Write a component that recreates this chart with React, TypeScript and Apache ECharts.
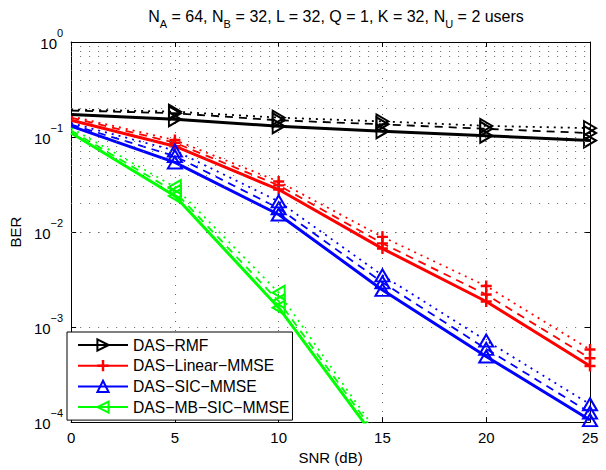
import React, { useEffect, useRef } from 'react';
import * as echarts from 'echarts';

// ---- data ----
const snrDb = [0, 5, 10, 15, 20, 25];

const rmfSolid = [0.173, 0.154, 0.13, 0.115, 0.103, 0.092];
const rmfDashed = [0.19, 0.178, 0.15, 0.136, 0.122, 0.11];
const rmfDotted = [0.195, 0.185, 0.16, 0.146, 0.131, 0.124];

const linSolid = [0.15, 0.08, 0.028, 0.0067, 0.00186, 0.00039];
const linDashed = [0.16, 0.087, 0.031, 0.0076, 0.0022, 0.00047];
const linDotted = [0.165, 0.093, 0.034, 0.0089, 0.0027, 0.00058];

const sicSolid = [0.13, 0.054, 0.0153, 0.00246, 0.00049, 0.000105];
const sicDashed = [0.135, 0.063, 0.0178, 0.00295, 0.00059, 0.000126];
const sicDotted = [0.14, 0.072, 0.021, 0.0035, 0.00072, 0.000154];

const mbSolid = [0.11, 0.024, 0.0016, 0.000054];
const mbDashed = [0.117, 0.0265, 0.00187, 0.00006];
const mbDotted = [0.124, 0.0298, 0.0023, 0.000065];

const legendNames = ['DAS−RMF', 'DAS−Linear−MMSE', 'DAS−SIC−MMSE', 'DAS−MB−SIC−MMSE'];
const xTicks = [0, 5, 10, 15, 20, 25];
const yDecades = [-4, -3, -2, -1, 0];
const minorMantissas = [2, 3, 4, 5, 6, 7, 8, 9];

const FONT = '"Liberation Sans", Arial, Helvetica, sans-serif';
const PLUS = 'path://M3.9,0H6.1V3.9H10V6.1H6.1V10H3.9V6.1H0V3.9H3.9Z';

export default function App() {
  const ref = useRef<HTMLDivElement>(null);

  useEffect(() => {
    if (!ref.current) return;
    const chart = echarts.init(ref.current, undefined, { renderer: 'svg' });

    const minorValues: number[] = [];
    yDecades.slice(0, -1).forEach((d) => {
      minorMantissas.forEach((m) => minorValues.push(m * Math.pow(10, d)));
    });

    const mk = (
      name: string,
      vals: number[],
      color: string,
      dash: any,
      width: number,
      symbol: string,
      size: any,
      rotate: number,
      filled: boolean
    ) => ({
      type: 'line',
      name,
      data: vals.map((v, i) =>
        i === 0 ? { value: [snrDb[i], v], symbol: 'none' } : [snrDb[i], v]
      ),
      symbol,
      symbolSize: size,
      symbolRotate: rotate,
      showSymbol: true,
      lineStyle: { color, width, type: dash },
      itemStyle: filled
        ? { color, borderWidth: 0 }
        : { color: 'rgba(0,0,0,0)', borderColor: color, borderWidth: 2 },
      emphasis: { disabled: true },
      silent: true,
      clip: true,
      z: 3,
    });

    const groups = [
      { name: legendNames[0], s: rmfSolid, d: rmfDashed, o: rmfDotted, c: '#000000', sym: 'triangle', size: [14, 12], rot: -90, fill: false },
      { name: legendNames[1], s: linSolid, d: linDashed, o: linDotted, c: '#ff0000', sym: PLUS, size: 11, rot: 0, fill: true },
      { name: legendNames[2], s: sicSolid, d: sicDashed, o: sicDotted, c: '#0000ff', sym: 'triangle', size: [14, 12], rot: 0, fill: false },
      { name: legendNames[3], s: mbSolid, d: mbDashed, o: mbDotted, c: '#00ff00', sym: 'triangle', size: [14, 12], rot: 90, fill: false },
    ];

    const series: any[] = [];
    groups.forEach((g) => {
      series.push(mk(g.name, g.s, g.c, 'solid', 3, g.sym, g.size, g.rot, g.fill));
    });
    groups.forEach((g) => {
      series.push(mk(g.name + ' (dashed)', g.d, g.c, [8, 6], 1.8, g.sym, g.size, g.rot, g.fill));
      series.push(mk(g.name + ' (dotted)', g.o, g.c, [2, 5], 1.8, g.sym, g.size, g.rot, g.fill));
    });

    const gridStyle = { type: [1, 8], color: '#666', width: 1 };

    series.push({
      type: 'line',
      name: 'minor-grid',
      data: [],
      silent: true,
      z: 1,
      markLine: {
        silent: true,
        symbol: ['none', 'none'],
        label: { show: false },
        lineStyle: gridStyle,
        emphasis: { disabled: true },
        data: minorValues.map((v) => ({ yAxis: v })),
      },
    });

    const gridLine = { show: true, lineStyle: gridStyle };

    chart.setOption({
      animation: false,
      backgroundColor: '#ffffff',
      title: {
        text: '{n|N}{s|A}{n| = 64, }{n|N}{s|B}{n| = 32, L = 32, Q = 1, K = 32, }{n|N}{s|U}{n| = 2 users}',
        left: 331,
        textAlign: 'center',
        top: 4,
        textStyle: {
          fontWeight: 'normal',
          rich: {
            n: { fontSize: 16, fontFamily: FONT, fontWeight: 'normal', color: '#000', lineHeight: 20, padding: [0, 0, 5, 0], verticalAlign: 'bottom' },
            s: { fontSize: 11, fontFamily: FONT, fontWeight: 'normal', color: '#000', lineHeight: 14, verticalAlign: 'bottom' },
          },
        },
      },
      grid: { left: 71, right: 16, top: 42, bottom: 40, containLabel: false },
      legend: {
        data: legendNames,
        orient: 'vertical',
        left: 67,
        top: 332,
        itemWidth: 50,
        itemHeight: 14,
        itemGap: 4.7,
        padding: [5, 3, 5, 10],
        backgroundColor: '#ffffff',
        borderColor: '#000000',
        borderWidth: 1,
        borderRadius: 0,
        selectedMode: false,
        textStyle: { fontSize: 15.7, fontFamily: FONT, color: '#000', lineHeight: 16 },
        z: 10,
      },
      xAxis: [
        {
          type: 'value',
          min: xTicks[0],
          max: xTicks[xTicks.length - 1],
          interval: 5,
          name: 'SNR (dB)',
          nameLocation: 'middle',
          nameGap: 27,
          nameTextStyle: { fontSize: 15, fontFamily: FONT, color: '#000' },
          axisLine: { show: true, onZero: false, lineStyle: { color: '#000', width: 1 } },
          axisTick: { show: true, inside: true, length: 5, lineStyle: { color: '#000' } },
          axisLabel: { fontSize: 15, fontFamily: FONT, color: '#000', margin: 8 },
          splitLine: gridLine,
        },
        {
          type: 'value',
          position: 'top',
          min: xTicks[0],
          max: xTicks[xTicks.length - 1],
          interval: 5,
          axisLine: { show: true, onZero: false, lineStyle: { color: '#000', width: 1 } },
          axisTick: { show: true, inside: true, length: 5, lineStyle: { color: '#000' } },
          axisLabel: { show: false },
          splitLine: { show: false },
        },
      ],
      yAxis: [
        {
          type: 'log',
          logBase: 10,
          min: Math.pow(10, yDecades[0]),
          max: Math.pow(10, yDecades[yDecades.length - 1]),
          name: 'BER',
          nameLocation: 'middle',
          nameGap: 36,
          nameTextStyle: { fontSize: 15, fontFamily: FONT, color: '#000' },
          axisLine: { show: true, onZero: false, lineStyle: { color: '#000', width: 1 } },
          axisTick: { show: true, inside: true, length: 5, lineStyle: { color: '#000' } },
          axisLabel: {
            margin: 8,
            formatter: (v: number) => {
              const e = Math.round(Math.log10(v));
              return '{b|10}{e|' + (e < 0 ? '−' + -e : String(e)) + '}';
            },
            rich: {
              b: { fontSize: 15, fontFamily: FONT, color: '#000', lineHeight: 18, verticalAlign: 'bottom' },
              e: { fontSize: 11, fontFamily: FONT, color: '#000', lineHeight: 11, padding: [0, 0, 13, 0], verticalAlign: 'bottom' },
            },
          },
          splitLine: gridLine,
        },
        {
          type: 'log',
          logBase: 10,
          position: 'right',
          min: Math.pow(10, yDecades[0]),
          max: Math.pow(10, yDecades[yDecades.length - 1]),
          axisLine: { show: true, onZero: false, lineStyle: { color: '#000', width: 1 } },
          axisTick: { show: true, inside: true, length: 5, lineStyle: { color: '#000' } },
          axisLabel: { show: false },
          splitLine: { show: false },
        },
      ],
      series,
    });

    return () => chart.dispose();
  }, []);

  return <div ref={ref} style={{ width: 606, height: 470, position: 'absolute', left: 0, top: 0 }} />;
}
